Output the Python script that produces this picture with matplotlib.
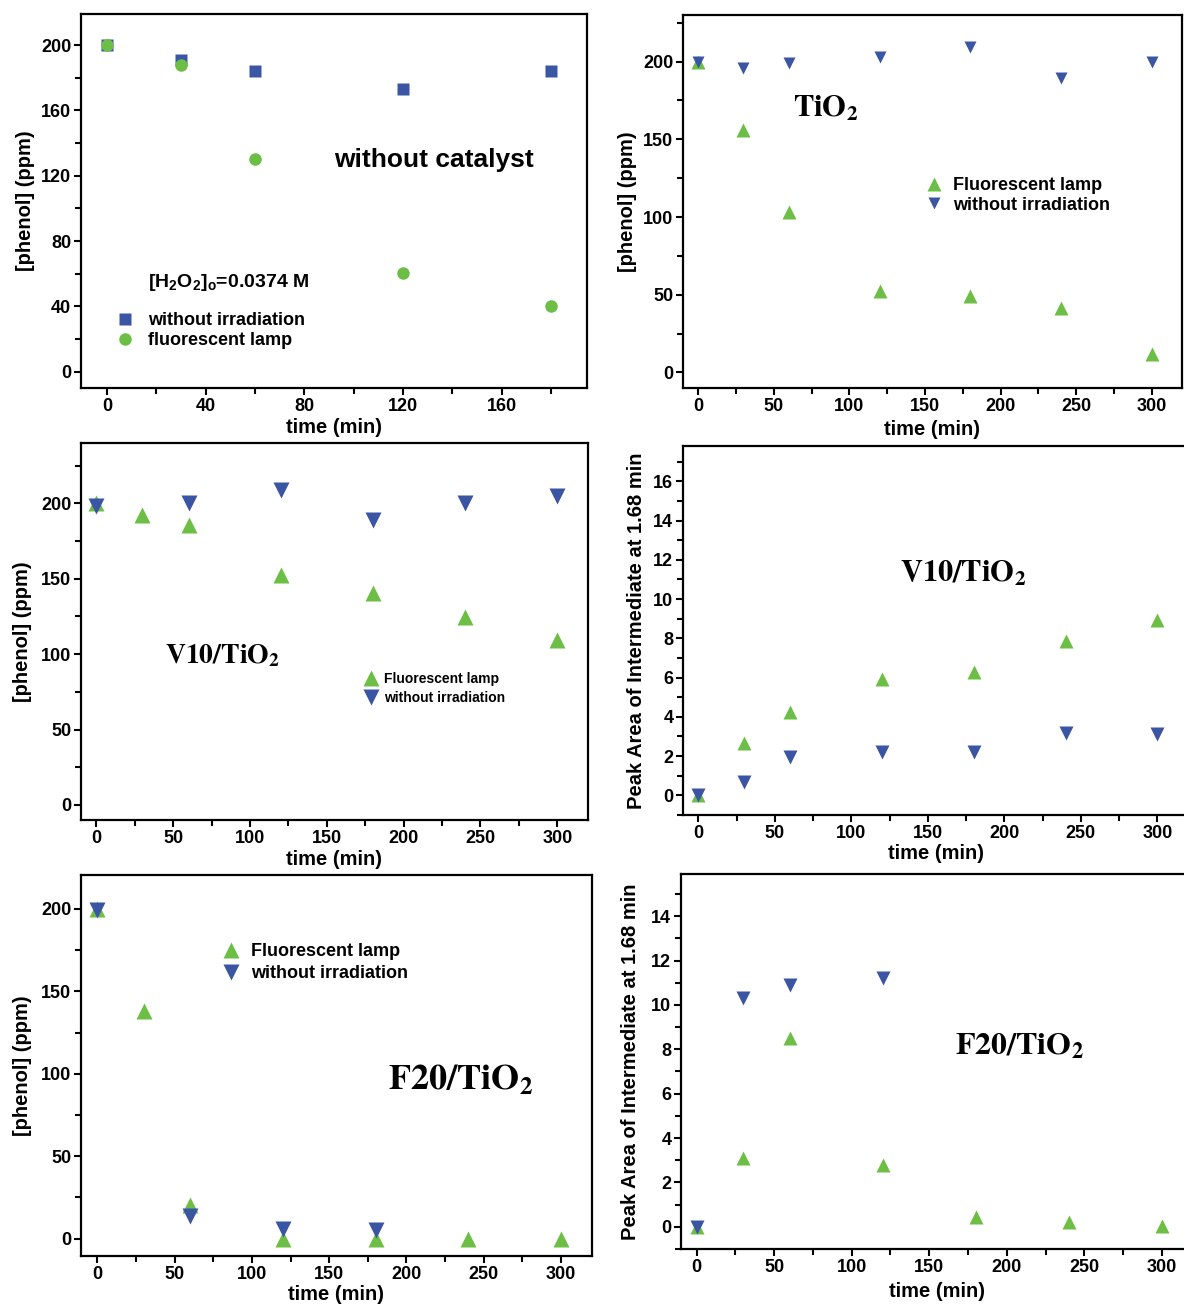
import numpy as np
import matplotlib
matplotlib.use("Agg")
import matplotlib.pyplot as plt
from matplotlib.ticker import MultipleLocator

plt.rcParams['font.family'] = ['Liberation Sans', 'DejaVu Sans']
plt.rcParams['font.weight'] = 'bold'
plt.rcParams['mathtext.fontset'] = 'custom'
plt.rcParams['mathtext.bf'] = 'Liberation Sans:bold'
plt.rcParams['mathtext.rm'] = 'Liberation Sans:bold'

GREEN = '#6CBE45'
BLUE = '#3A55A4'

# panel 1: without catalyst
t1 = [0, 30, 60, 120, 180]
dark1 = [200, 191, 184, 173, 184]
lamp1 = [200, 187.5, 130, 60.7, 40]

# panel 2: TiO2 phenol
t2 = [0, 30, 60, 120, 180, 240, 300]
lamp2 = [200, 156, 103, 52.5, 49.5, 41.5, 12]
dark2 = [200, 195.7, 198.9, 203.2, 209.3, 189.2, 200]

# panel 3: V10/TiO2 phenol
t3_lamp = [0, 30, 60, 120, 180, 240, 300]
lamp3 = [200, 192.3, 185.4, 152.7, 140.8, 124.4, 109.6]
t3_dark = [0, 60, 120, 180, 240, 300]
dark3 = [198.5, 200.2, 209, 189.2, 200.2, 204.6]

# panel 4: V10/TiO2 intermediate
t4 = [0, 30, 60, 120, 180, 240, 300]
lamp4 = [0, 2.69, 4.27, 5.92, 6.31, 7.84, 8.95]
dark4 = [0, 0.7, 1.97, 2.23, 2.23, 3.16, 3.11]

# panel 5: F20/TiO2 phenol
t5_lamp = [0, 30, 60, 120, 180, 240, 300]
lamp5 = [200, 137.8, 20.6, 0, 0, 0, 0]
t5_dark = [0, 60, 120, 180]
dark5 = [199, 13.7, 6, 5.5]

# panel 6: F20/TiO2 intermediate
t6_lamp = [0, 30, 60, 120, 180, 240, 300]
lamp6 = [0, 3.08, 8.5, 2.78, 0.44, 0.23, 0.03]
t6_dark = [0, 30, 60, 120]
dark6 = [0, 10.33, 10.9, 11.23]

W, H = 1184, 1306
fig = plt.figure(figsize=(W / 100, H / 100), dpi=100)


def panel(l, r, t, b, xlim, ylim, xmaj, ymaj, ylabel, ylab_x, xlab_y):
    ax = fig.add_axes([l / W, 1 - b / H, (r - l) / W, (b - t) / H])
    ax.set_xlim(*xlim)
    ax.set_ylim(*ylim)
    ax.xaxis.set_major_locator(MultipleLocator(xmaj))
    ax.xaxis.set_minor_locator(MultipleLocator(xmaj / 2))
    ax.yaxis.set_major_locator(MultipleLocator(ymaj))
    ax.yaxis.set_minor_locator(MultipleLocator(ymaj / 2))
    for s in ax.spines.values():
        s.set_linewidth(1.6)
    ax.tick_params(which='both', direction='out', width=1.5, labelsize=13, pad=2)
    ax.tick_params(which='major', length=5)
    ax.tick_params(which='minor', length=4)
    for lab in ax.get_xticklabels() + ax.get_yticklabels():
        lab.set_fontweight('bold')
    ax.set_ylabel(ylabel, fontsize=14.5, fontweight='bold')
    ax.set_xlabel('time (min)', fontsize=14.5, fontweight='bold')
    # label coords given as pixel centre of the reference labels
    ax.yaxis.set_label_coords((ylab_x + 10 - l) / (r - l), 0.5)
    ax.xaxis.set_label_coords(0.5, (b - (xlab_y - 8)) / (b - t))
    return ax


def serif_label(ax, x, y, txt, size):
    ax.text(x, y, r'$\mathbf{%s}$' % txt, fontsize=size, ha='left', va='center',
            transform=ax.transAxes, math_fontfamily='stix')


# ---- panel 1
ax1 = panel(81, 587, 14, 388, (-10.5, 194.5), (-10, 219), 40, 40,
            '[phenol] (ppm)', 25, 426)
ax1.plot(t1, dark1, 's', color=BLUE, ms=8.5, mec='none', label='without irradiation')
ax1.plot(t1, lamp1, 'o', color=GREEN, ms=9, mec='none', label='fluorescent lamp')
ax1.text(0.5, 0.609, 'without catalyst', transform=ax1.transAxes, fontsize=19,
         fontweight='bold', ha='left', va='center')
ax1.text(0.133, 0.282, r'[H$_2$O$_2$]$_\mathrm{o}$=0.0374 M', transform=ax1.transAxes,
         fontsize=14, fontweight='bold', ha='left', va='center')
ax1.legend(loc='upper left', bbox_to_anchor=(0.04, 0.236), frameon=False, fontsize=13,
           handlelength=1.2, handletextpad=0.7, labelspacing=0.15, borderpad=0.2)

# ---- panel 2
ax2 = panel(683, 1182, 15, 388, (-10, 320), (-10, 230), 50, 50,
            '[phenol] (ppm)', 627, 428)
ax2.plot(t2, lamp2, '^', color=GREEN, ms=10, mec='none', label='Fluorescent lamp')
ax2.plot(t2, dark2, 'v', color=BLUE, ms=8, mec='none', label='without irradiation')
serif_label(ax2, 0.22, 0.75, 'TiO_2', 22)
ax2.legend(loc='upper left', bbox_to_anchor=(0.455, 0.6), frameon=False, fontsize=13,
           handlelength=1.2, handletextpad=0.5, labelspacing=0.15, borderpad=0.2)

# ---- panel 3
ax3 = panel(81, 588, 443, 820, (-10, 320), (-10, 240), 50, 50,
            '[phenol] (ppm)', 22, 858)
ax3.plot(t3_lamp, lamp3, '^', color=GREEN, ms=11, mec='none', label='Fluorescent lamp')
ax3.plot(t3_dark, dark3, 'v', color=BLUE, ms=11, mec='none', label='without irradiation')
serif_label(ax3, 0.165, 0.435, 'V10/TiO_2', 20)
ax3.legend(loc='upper left', bbox_to_anchor=(0.535, 0.418), frameon=False, fontsize=10,
           handlelength=1.3, handletextpad=0.3, labelspacing=0.35, borderpad=0.2)

# ---- panel 4
ax4 = panel(683, 1188, 446, 815, (-10, 320), (-1, 17.8), 50, 2,
            'Peak Area of Intermediate at 1.68 min', 636, 852)
ax4.plot(t4, lamp4, '^', color=GREEN, ms=10.5, mec='none')
ax4.plot(t4, dark4, 'v', color=BLUE, ms=10.5, mec='none')
serif_label(ax4, 0.43, 0.655, 'V10/TiO_2', 22)

# ---- panel 5
ax5 = panel(81, 592, 875, 1256, (-10.5, 320), (-10.5, 220.5), 50, 50,
            '[phenol] (ppm)', 22, 1293)
ax5.plot(t5_lamp, lamp5, '^', color=GREEN, ms=11, mec='none', label='Fluorescent lamp')
ax5.plot(t5_dark, dark5, 'v', color=BLUE, ms=11, mec='none', label='without irradiation')
serif_label(ax5, 0.6, 0.46, 'F20/TiO_2', 26)
ax5.legend(loc='upper left', bbox_to_anchor=(0.245, 0.855), frameon=False, fontsize=13,
           handlelength=1.3, handletextpad=0.5, labelspacing=0.3, borderpad=0.2)

# ---- panel 6
ax6 = panel(681, 1193, 874, 1249, (-10, 320), (-1, 15.9), 50, 2,
            'Peak Area of Intermediate at 1.68 min', 630, 1290)
ax6.plot(t6_lamp, lamp6, '^', color=GREEN, ms=10.5, mec='none')
ax6.plot(t6_dark, dark6, 'v', color=BLUE, ms=10.5, mec='none')
serif_label(ax6, 0.535, 0.54, 'F20/TiO_2', 23)

fig.savefig('out.png', dpi=100)
